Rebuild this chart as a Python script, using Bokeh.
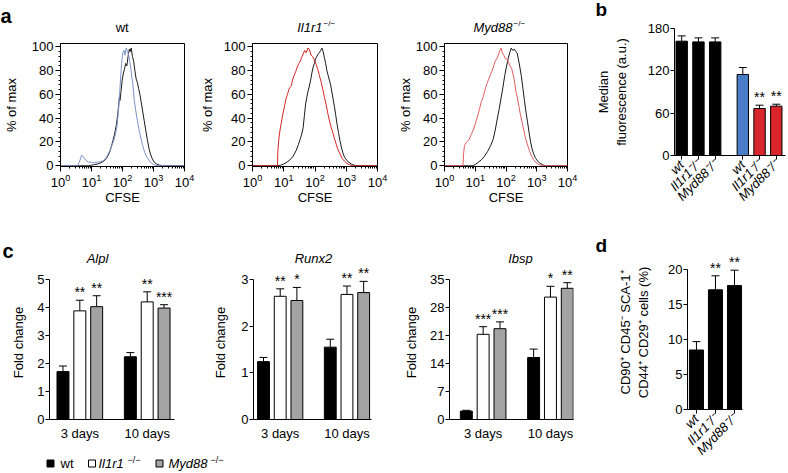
import math
from bokeh.plotting import figure
from bokeh.models import (Range1d, FixedTicker, LogTicker, LogTickFormatter, SingleIntervalTicker,
                          Whisker, TeeHead, ColumnDataSource)
from bokeh.layouts import row, column
from bokeh.embed import file_html
from bokeh.resources import INLINE
from bokeh.core.properties import value

FONT = "Liberation Sans"
BLACK = "#000000"
WHITE = "#ffffff"
GREY = "#a3a3a3"
BLUE = "#4a7cc7"
RED = "#d8262c"
HIST_BLACK = "#1a1a1a"
HIST_BLUE = "#7d93c6"
HIST_RED = "#d42424"
HIST_RED2 = "#e35d5f"
SUP = "\u2212/\u2212"

# ---------------- panel a : CFSE histograms (log10 CFSE, % of max) ----------------
wt_black = [(0, 0), (0.9, 0), (1.0, 0.5), (1.1, 1), (1.2, 1.5), (1.3, 2.5), (1.4, 4), (1.5, 7),
            (1.58, 11), (1.66, 18), (1.74, 26), (1.8, 34), (1.85, 44), (1.88, 52), (1.9, 58),
            (1.92, 55), (1.95, 62), (1.99, 72), (2.03, 78), (2.07, 82), (2.1, 86), (2.14, 84),
            (2.18, 92), (2.22, 98), (2.25, 96), (2.28, 99), (2.32, 92), (2.36, 88), (2.4, 80),
            (2.44, 73), (2.48, 70), (2.52, 65), (2.56, 60), (2.6, 54), (2.65, 46), (2.7, 38),
            (2.75, 30), (2.8, 22), (2.85, 15), (2.9, 10), (2.96, 6), (3.02, 3), (3.1, 1.5),
            (3.2, 0.5), (3.3, 0), (4, 0)]
wt_blue = [(0, 0), (0.55, 0), (0.62, 4), (0.68, 9), (0.72, 8), (0.8, 5), (0.9, 3), (1.0, 3),
           (1.1, 2.5), (1.2, 3), (1.3, 3.5), (1.4, 4.5), (1.5, 8), (1.6, 13), (1.7, 20), (1.76, 25),
           (1.82, 33), (1.87, 46), (1.92, 66), (1.97, 86), (2.01, 95), (2.05, 97), (2.08, 93),
           (2.12, 99), (2.16, 96), (2.2, 93), (2.23, 88), (2.27, 82), (2.3, 74), (2.33, 70),
           (2.38, 55), (2.43, 46), (2.48, 38), (2.55, 28), (2.64, 18), (2.72, 11), (2.79, 7),
           (2.87, 4), (2.94, 2), (3.05, 0.5), (3.15, 0), (4, 0)]
il_black = [(0, 0), (0.8, 0), (0.9, 0.5), (1.0, 1.5), (1.1, 3), (1.2, 5), (1.3, 8), (1.4, 13),
            (1.47, 18), (1.52, 22), (1.57, 26), (1.62, 32), (1.66, 42), (1.7, 52), (1.74, 58),
            (1.78, 63), (1.82, 67), (1.86, 72), (1.9, 78), (1.94, 83), (1.98, 86), (2.02, 90),
            (2.06, 92), (2.1, 94), (2.14, 95), (2.18, 97), (2.22, 99), (2.26, 96), (2.3, 91),
            (2.34, 86), (2.38, 80), (2.42, 76), (2.46, 72), (2.5, 68), (2.54, 62), (2.58, 56),
            (2.62, 50), (2.66, 43), (2.7, 36), (2.75, 28), (2.8, 21), (2.85, 15), (2.9, 10),
            (2.95, 7), (3.0, 5), (3.08, 3), (3.16, 1.5), (3.25, 0.5), (3.35, 0), (4, 0)]
il_red = [(0, 0), (0.8, 0), (0.81, 12), (0.84, 22), (0.88, 30), (0.92, 36), (0.96, 42), (1.0, 47),
          (1.04, 52), (1.08, 57), (1.12, 60), (1.16, 64), (1.2, 66), (1.24, 67), (1.28, 72),
          (1.33, 76), (1.38, 79), (1.43, 83), (1.48, 86), (1.53, 88), (1.57, 91), (1.62, 94),
          (1.67, 97), (1.72, 95), (1.77, 99), (1.82, 98), (1.87, 93), (1.92, 92), (1.98, 89),
          (2.04, 85), (2.09, 81), (2.14, 76), (2.2, 70), (2.25, 64), (2.3, 58), (2.36, 51),
          (2.41, 44), (2.47, 37), (2.52, 32), (2.57, 28), (2.62, 23), (2.68, 18), (2.73, 14),
          (2.8, 10), (2.87, 6), (2.94, 4), (3.02, 2), (3.1, 1), (3.2, 0), (4, 0)]
my_black = [(0, 0), (0.9, 0), (1.0, 1), (1.1, 3), (1.2, 5), (1.3, 8), (1.4, 12), (1.5, 17),
            (1.58, 22), (1.65, 30), (1.72, 40), (1.78, 48), (1.84, 57), (1.9, 66), (1.96, 76),
            (2.02, 84), (2.07, 90), (2.12, 95), (2.17, 99), (2.22, 97), (2.27, 98), (2.32, 96),
            (2.36, 95), (2.4, 90), (2.45, 83), (2.5, 75), (2.55, 65), (2.6, 55), (2.65, 45),
            (2.7, 37), (2.75, 28), (2.8, 20), (2.85, 14), (2.9, 10), (2.95, 7), (3.0, 5),
            (3.08, 2.5), (3.18, 1), (3.28, 0), (4, 0)]
my_red = [(0, 0), (0.6, 0), (0.62, 10), (0.65, 17), (0.72, 20), (0.8, 22), (0.88, 27), (0.95, 31),
          (1.02, 37), (1.08, 42), (1.14, 48), (1.2, 54), (1.26, 58), (1.32, 64), (1.38, 69),
          (1.44, 73), (1.5, 77), (1.55, 80), (1.6, 84), (1.65, 88), (1.7, 90), (1.75, 93),
          (1.8, 97), (1.84, 99), (1.88, 95), (1.93, 93), (1.98, 90), (2.03, 90), (2.08, 87),
          (2.13, 84), (2.18, 82), (2.22, 78), (2.27, 72), (2.32, 63), (2.37, 57), (2.42, 50),
          (2.47, 43), (2.52, 37), (2.57, 31), (2.62, 25), (2.67, 20), (2.72, 16), (2.77, 12),
          (2.83, 8), (2.9, 5), (2.98, 2.5), (3.06, 1), (3.15, 0.3), (3.25, 0), (4, 0)]

# ---------------- panel b : median fluorescence ----------------
b_labels = ["wt", "Il1r1\u207b/\u207b", "Myd88\u207b/\u207b"]
b_ctrl = [162, 161, 161]
b_ctrl_err = [7.5, 5.7, 5.7]
b_stim = [114.8, 66.6, 69.9]
b_stim_err = [9.9, 4.7, 2.8]
b_stim_stars = ["", "**", "**"]
b_yticks = [0, 60, 120, 180]

# ---------------- panel c : fold change ----------------
days = ["3 days", "10 days"]
alpl_wt, alpl_wt_err = [1.71, 2.24], [0.20, 0.15]
alpl_il, alpl_il_err = [3.88, 4.20], [0.38, 0.36]
alpl_my, alpl_my_err = [4.03, 3.98], [0.39, 0.12]
alpl_il_stars, alpl_my_stars = ["**", "**"], ["**", "***"]
runx2_wt, runx2_wt_err = [1.24, 1.55], [0.09, 0.17]
runx2_il, runx2_il_err = [2.64, 2.68], [0.16, 0.18]
runx2_my, runx2_my_err = [2.55, 2.72], [0.28, 0.24]
runx2_il_stars, runx2_my_stars = ["**", "**"], ["*", "**"]
ibsp_wt, ibsp_wt_err = [2.1, 15.5], [0.2, 2.1]
ibsp_il, ibsp_il_err = [21.3, 30.6], [1.9, 2.7]
ibsp_my, ibsp_my_err = [22.7, 32.8], [1.7, 1.4]
ibsp_il_stars, ibsp_my_stars = ["***", "*"], ["***", "**"]

# ---------------- panel d : CD90+ CD45- SCA-1+ CD44+ CD29+ cells ----------------
d_labels = ["wt", "Il1r1\u207b/\u207b", "Myd88\u207b/\u207b"]
d_vals = [8.5, 17.1, 17.7]
d_err = [1.2, 2.0, 2.2]
d_stars = ["", "**", "**"]
d_yticks = [0, 5, 10, 15, 20]


def band(width, height):
    f = figure(width=width, height=height, x_range=Range1d(0, width), y_range=Range1d(height, 0),
               min_border_left=0, min_border_right=0, min_border_top=0, min_border_bottom=0,
               x_axis_location=None, y_axis_location=None,
               toolbar_location=None, output_backend="svg")
    f.grid.visible = False
    f.outline_line_color = None
    return f


def btext(f, x, y, text, size, style="normal", align="center", baseline="middle"):
    f.text(x=[x], y=[y], text=[text], text_align=align, text_baseline=baseline,
           text_font=value(FONT), text_font_size=f"{size}px", text_font_style=style,
           text_color="black")


def style_axis(ax, size):
    ax.axis_line_color = "black"
    ax.axis_line_width = 1
    ax.major_tick_line_color = "black"
    ax.major_tick_in = 0
    ax.minor_tick_in = 0
    ax.major_label_text_font = FONT
    ax.major_label_text_font_size = f"{size}px"
    ax.major_label_text_color = "black"
    ax.axis_label_text_font = FONT
    ax.axis_label_text_font_size = f"{size}px"
    ax.axis_label_text_font_style = "normal"
    ax.axis_label_text_color = "black"


def hist_panel(width, left, right, curves, ylab_standoff):
    p = figure(width=width, height=187, x_axis_type="log",
               x_range=Range1d(1, 1e4), y_range=Range1d(-0.6, 102.8),
               min_border_left=left, min_border_right=right,
               min_border_top=8, min_border_bottom=56,
               toolbar_location=None, output_backend="svg")
    p.grid.visible = False
    p.outline_line_color = "black"
    p.outline_line_width = 1
    for pts, col in curves:
        p.line(x=[10 ** a for a, _ in pts], y=[b for _, b in pts], line_color=col, line_width=1)
    tk = LogTicker(mantissas=[1], desired_num_ticks=5, num_minor_ticks=10)
    xa = p.xaxis[0]
    ya = p.yaxis[0]
    xa.ticker = tk
    xa.formatter = LogTickFormatter(ticker=tk)
    ya.ticker = SingleIntervalTicker(interval=20, num_minor_ticks=5)
    for ax in (xa, ya):
        style_axis(ax, 13)
        ax.major_tick_out = 5
        ax.minor_tick_out = 2
        ax.minor_tick_line_color = "black"
        ax.major_label_standoff = 2
    xa.axis_label = "CFSE"
    xa.axis_label_standoff = 0
    ya.axis_label = "% of max"
    ya.axis_label_standoff = ylab_standoff
    return p


def bar_panel(width, height, left, right, top, bottom, xr, yr, ybounds, yticks, ylabel, ylab_standoff):
    p = figure(width=width, height=height, x_range=Range1d(*xr), y_range=Range1d(*yr),
               min_border_left=left, min_border_right=right,
               min_border_top=top, min_border_bottom=bottom,
               toolbar_location=None, output_backend="svg")
    p.grid.visible = False
    p.outline_line_color = None
    xa = p.xaxis[0]
    ya = p.yaxis[0]
    style_axis(xa, 13)
    style_axis(ya, 13)
    ya.bounds = ybounds
    ya.ticker = FixedTicker(ticks=yticks)
    ya.minor_tick_line_color = None
    ya.major_tick_out = 4
    ya.major_label_standoff = 1
    ya.axis_label = ylabel
    ya.axis_label_standoff = ylab_standoff
    xa.minor_tick_line_color = None
    return p


def add_bars(p, xs, vals, errs, colors, stars, width):
    ups = [v + e for v, e in zip(vals, errs)]
    src = ColumnDataSource(dict(x=xs, top=vals, up=ups, star=stars, color=colors))
    p.add_layout(Whisker(source=src, base="x", lower="top", upper="up", dimension="height",
                         line_color="black", line_width=1,
                         upper_head=TeeHead(size=8, line_color="black", line_width=1),
                         lower_head=None))
    p.vbar(x="x", top="top", width=width, source=src, fill_color="color",
           line_color="black", line_width=1)
    p.text(x="x", y="up", text="star", source=src, text_align="center", text_baseline="middle",
           y_offset=-8, text_font=value(FONT), text_font_size="14px", text_color="black")


def gene_panel(width, left, right, xr, yr, ybounds, yticks, ylab_standoff, series):
    p = bar_panel(width, 183, left, right, 0, 29, xr, yr, ybounds, yticks, "Fold change", ylab_standoff)
    for k, (vals, errs, col, stars) in enumerate(series):
        xs = [d * 4 + k for d in range(len(days))]
        add_bars(p, xs, vals, errs, [col] * len(vals), stars, 0.71)
    xa = p.xaxis[0]
    centers = [d * 4 + 1 for d in range(len(days))]
    xa.ticker = FixedTicker(ticks=centers)
    xa.major_label_overrides = {c: t for c, t in zip(centers, days)}
    xa.major_tick_line_color = None
    xa.major_tick_out = 0
    xa.major_label_standoff = 6
    return p


def rotated_labels(p, xs, labels):
    xa = p.xaxis[0]
    xa.ticker = FixedTicker(ticks=xs)
    xa.major_tick_out = 4
    xa.major_label_overrides = {x: t for x, t in zip(xs, labels)}
    xa.major_label_orientation = math.pi / 4
    xa.major_label_text_font_style = "italic"
    xa.major_label_standoff = 3


# ---------- top row ----------
band_a = band(592, 35)
btext(band_a, 0, 15, "a", 20, style="bold", align="left", baseline="alphabetic")
btext(band_a, 121.7, 27, "wt", 13)
btext(band_a, 322, 27, "Il1r1", 13, style="italic", align="right")
btext(band_a, 323, 23, SUP, 8, align="left")
btext(band_a, 512, 27, "Myd88", 13, style="italic", align="right")
btext(band_a, 513, 23, SUP, 8, align="left")

h1 = hist_panel(196, 54, 12, [(wt_black, HIST_BLACK), (wt_blue, HIST_BLUE)], 10)
h2 = hist_panel(198, 55, 17, [(il_black, HIST_BLACK), (il_red, HIST_RED)], 6)
h3 = hist_panel(198, 43, 25, [(my_black, HIST_BLACK), (my_red, HIST_RED2)], 0)

band_b = band(196, 20)
btext(band_b, 3, 9, "b", 19, style="bold", align="left", baseline="middle")

pb = bar_panel(196, 202, 77, 3, 8, 67, (-0.43, 6.2), (0, 180), (0, 180), b_yticks,
               "Median\nfluorescence (a.u.)", 16)
b_x1 = [0, 1, 2]
b_x2 = [3.65, 4.65, 5.65]
add_bars(pb, b_x1, b_ctrl, b_ctrl_err, [BLACK, BLACK, BLACK], ["", "", ""], 0.68)
add_bars(pb, b_x2, b_stim, b_stim_err, [BLUE, RED, RED], b_stim_stars, 0.68)
rotated_labels(pb, b_x1 + b_x2, b_labels + b_labels)

top_row = row(column(band_a, row(h1, h2, h3)), column(band_b, row(pb)))

# ---------- bottom row ----------
band_c = band(592, 43)
btext(band_c, 2, 28, "c", 20, style="bold", align="left", baseline="alphabetic")
btext(band_c, 97, 35.5, "Alpl", 13, style="italic")
btext(band_c, 313, 35.5, "Runx2", 13, style="italic")
btext(band_c, 520, 35.5, "Ibsp", 13, style="italic")

pc1 = gene_panel(198, 49, 24, (-0.8, 6.62), (0, 5.5), (0, 5), [0, 1, 2, 3, 4, 5], 8,
                 [(alpl_wt, alpl_wt_err, BLACK, ["", ""]),
                  (alpl_il, alpl_il_err, WHITE, alpl_il_stars),
                  (alpl_my, alpl_my_err, GREY, alpl_my_stars)])
pc2 = gene_panel(198, 55, 25, (-0.6, 6.47), (0, 3.3), (0, 3), [0, 1, 2, 3], 10,
                 [(runx2_wt, runx2_wt_err, BLACK, ["", ""]),
                  (runx2_il, runx2_il_err, WHITE, runx2_il_stars),
                  (runx2_my, runx2_my_err, GREY, runx2_my_stars)])
pc3 = gene_panel(196, 53, 19, (-1.0, 6.37), (0, 38.5), (0, 35), [0, 7, 14, 21, 28, 35], 8,
                 [(ibsp_wt, ibsp_wt_err, BLACK, ["", ""]),
                  (ibsp_il, ibsp_il_err, WHITE, ibsp_il_stars),
                  (ibsp_my, ibsp_my_err, GREY, ibsp_my_stars)])

lg = band(592, 25)
lg.rect(x=[50, 91.5, 159], y=[15, 15, 15], width=7, height=7,
        fill_color=[BLACK, WHITE, GREY], line_color="black", line_width=1)
btext(lg, 60, 15, "wt", 13, align="left")
btext(lg, 98, 15, "Il1r1", 13, style="italic", align="left")
btext(lg, 127, 11, SUP, 9, align="left")
btext(lg, 168, 15, "Myd88", 13, style="italic", align="left")
btext(lg, 210, 11, SUP, 9, align="left")

band_d = band(196, 33)
btext(band_d, 3, 23, "d", 19, style="bold", align="left", baseline="middle")

pdd = bar_panel(196, 218, 95, 46, 0, 64, (-0.47, 2.42), (0, 22), (0, 20), d_yticks,
                "CD90\u207a CD45\u207b SCA-1\u207a\nCD44\u207a CD29\u207a cells (%)", 14)
d_x = [0, 1, 2]
add_bars(pdd, d_x, d_vals, d_err, [BLACK] * 3, d_stars, 0.74)
rotated_labels(pdd, d_x, d_labels)

bottom_row = row(column(band_c, row(pc1, pc2, pc3), lg), column(band_d, row(pdd)))

layout = column(top_row, bottom_row)

open("out.html", "w").write(file_html(layout, INLINE))
